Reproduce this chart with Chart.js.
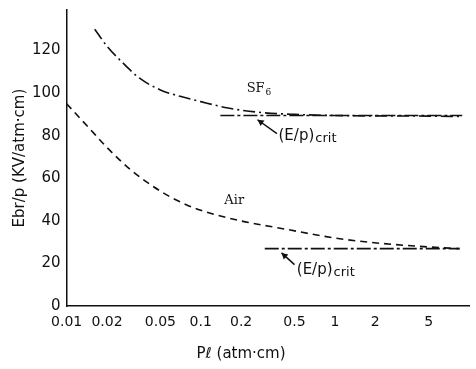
<!DOCTYPE html>
<html>
<head>
<meta charset="utf-8">
<script src="https://cdn.jsdelivr.net/npm/chart.js@4/dist/chart.umd.min.js"></script>
<style>
  html, body { margin: 0; padding: 0; background: #fff; }
  #wrap { width: 476px; height: 369px; }
</style>
</head>
<body>
<div id="wrap"><canvas id="c" width="476" height="369"></canvas></div>
<script>
// Breakdown field Ebr/p vs pressure x gap, SF6 and air.
var TICK_VALUES = [0.01, 0.02, 0.05, 0.1, 0.2, 0.5, 1, 2, 5];
var TICK_LABELS = ["0.01", "0.02", "0.05", "0.1", "0.2", "0.5", "1", "2", "5"];

var SF6_X = [0.0162, 0.02, 0.025, 0.035, 0.05, 0.07, 0.1, 0.16, 0.27, 0.5, 1, 2, 5, 9];
var SF6_Y = [130, 122, 115.5, 107, 101.5, 98.5, 96, 93, 91, 90, 89.5, 89.3, 89.2, 89];

var AIR_X = [0.01, 0.015, 0.02, 0.03, 0.05, 0.07, 0.1, 0.2, 0.4, 1, 2.2, 5, 8.5];
var AIR_Y = [95, 83, 74.5, 64, 54, 49, 45, 40, 36.5, 32, 29.5, 27.8, 27];

var CRIT_SF6_X = [0.14, 8.9];
var CRIT_SF6_Y = [89.5, 89.5];
var CRIT_AIR_X = [0.3, 8.5];
var CRIT_AIR_Y = [27, 27];

function pts(xs, ys) {
  return xs.map(function (x, i) { return { x: x, y: ys[i] }; });
}

// text labels and arrows, placed in data units
var NOTES = [
  { text: "SF", sub: "6", x: 0.22, y: 102, serif: true },
  { text: "Air", x: 0.15, y: 49.5, serif: true },
  { text: "(E/p)", sub: "crit", x: 0.38, y: 80 },
  { text: "(E/p)", sub: "crit", x: 0.52, y: 17 }
];
var ARROWS = [
  { x0: 0.37, y0: 81, x1: 0.265, y1: 87.5 },
  { x0: 0.5, y0: 19.5, x1: 0.4, y1: 25 }
];

var notesPlugin = {
  id: "notes",
  afterDatasetsDraw: function (chart) {
    var ctx = chart.ctx, xs = chart.scales.x, ys = chart.scales.y, a = chart.chartArea;
    ctx.save();
    ctx.fillStyle = "#111";
    ctx.strokeStyle = "#111";
    ctx.textBaseline = "middle";
    ctx.textAlign = "left";
    NOTES.forEach(function (n) {
      var px = xs.getPixelForValue(n.x), py = ys.getPixelForValue(n.y);
      ctx.font = n.serif ? "13px 'DejaVu Serif'" : "15px 'DejaVu Sans'";
      ctx.fillText(n.text, px, py);
      if (n.sub) {
        var w = ctx.measureText(n.text).width;
        ctx.font = n.serif ? "9px 'DejaVu Serif'" : "13px 'DejaVu Sans'";
        ctx.fillText(n.sub, px + w + 1, py + (n.serif ? 4 : 3));
      }
    });
    ctx.lineWidth = 1.5;
    ARROWS.forEach(function (r) {
      var x0 = xs.getPixelForValue(r.x0), y0 = ys.getPixelForValue(r.y0);
      var x1 = xs.getPixelForValue(r.x1), y1 = ys.getPixelForValue(r.y1);
      var ang = Math.atan2(y1 - y0, x1 - x0);
      ctx.beginPath();
      ctx.moveTo(x0, y0); ctx.lineTo(x1, y1);
      ctx.stroke();
      ctx.beginPath();
      ctx.moveTo(x1, y1);
      ctx.lineTo(x1 - 7 * Math.cos(ang - 0.5), y1 - 7 * Math.sin(ang - 0.5));
      ctx.lineTo(x1 - 7 * Math.cos(ang + 0.5), y1 - 7 * Math.sin(ang + 0.5));
      ctx.closePath();
      ctx.fill();
    });
    // x axis title
    ctx.font = "15px 'DejaVu Sans'";
    ctx.textAlign = "left";
    ctx.textBaseline = "alphabetic";
    ctx.fillText("P\u2113 (atm\u00b7cm)", xs.getPixelForValue(0.093), a.bottom + 52);
    ctx.restore();
  }
};

var line = function (label, data, dash) {
  return { label: label, data: data, borderColor: "#111", backgroundColor: "#111",
           borderWidth: 1.6, borderDash: dash, pointRadius: 0, fill: false,
           cubicInterpolationMode: "monotone" };
};

new Chart(document.getElementById("c"), {
  type: "line",
  data: {
    datasets: [
      line("SF6", pts(SF6_X, SF6_Y), [12, 4, 2, 4]),
      line("Air", pts(AIR_X, AIR_Y), [7, 5]),
      line("SF6 (E/p)crit", pts(CRIT_SF6_X, CRIT_SF6_Y), [14, 3, 3, 3]),
      line("Air (E/p)crit", pts(CRIT_AIR_X, CRIT_AIR_Y), [14, 3, 3, 3])
    ]
  },
  plugins: [notesPlugin],
  options: {
    responsive: false,
    animation: false,
    layout: { padding: { left: 11, right: 7, top: 5, bottom: 34 } },
    plugins: { legend: { display: false }, tooltip: { enabled: false } },
    scales: {
      x: {
        type: "logarithmic", min: 0.01, max: 10,
        afterBuildTicks: function (s) { s.ticks = TICK_VALUES.map(function (v) { return { value: v }; }); },
        grid: { display: false, drawTicks: true, tickLength: 4, color: "#111" },
        border: { color: "#111", width: 1.5 },
        ticks: {
          color: "#111", font: { family: "DejaVu Sans", size: 14 }, padding: 4,
          maxRotation: 0, autoSkip: false,
          callback: function (v) { var i = TICK_VALUES.indexOf(v); return i >= 0 ? TICK_LABELS[i] : ""; }
        }
      },
      y: {
        min: 0, max: 139,
        afterBuildTicks: function (s) { s.ticks = s.ticks.filter(function (t) { return t.value % 20 === 0; }); },
        grid: { display: false, drawTicks: true, tickLength: 5, color: "#111" },
        border: { color: "#111", width: 1.5 },
        ticks: { stepSize: 20, color: "#111", font: { family: "DejaVu Sans", size: 15 }, padding: 1 },
        title: { display: true, text: "Ebr/p (KV/atm\u00b7cm)", color: "#111",
                 font: { family: "DejaVu Sans", size: 15 }, padding: { top: 0, bottom: 2 } }
      }
    }
  }
});
</script>
</body>
</html>
